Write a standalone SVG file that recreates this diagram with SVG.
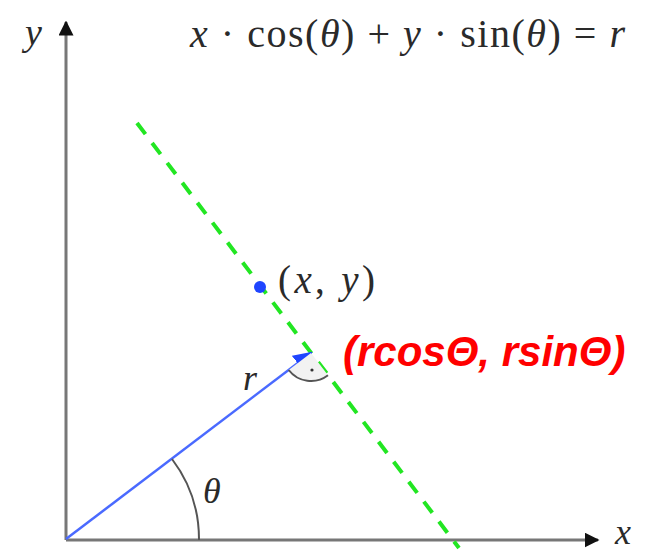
<svg xmlns="http://www.w3.org/2000/svg" width="669" height="553" viewBox="0 0 669 553">
<defs>
<style>
.math{font-family:"Liberation Serif","DejaVu Serif",serif;fill:#2a2a2a;}
.it{font-style:italic;}
.axis{stroke:#777;stroke-width:3;fill:none;}
</style>
<marker id="ah" viewBox="0 0 10 10" refX="9" refY="5" markerWidth="5" markerHeight="5" orient="auto" markerUnits="strokeWidth">
<path d="M0,0 L10,5 L0,10 Z" fill="#111"/>
</marker>
<marker id="bh" viewBox="0 0 10 10" refX="9" refY="5" markerWidth="7.5" markerHeight="7.5" orient="auto" markerUnits="strokeWidth">
<path d="M0,0 L10,5 L0,10 Z" fill="#1f45ff"/>
</marker>
</defs>
<rect width="669" height="553" fill="#fff"/>
<g id="connectors">
<line id="x-axis" class="axis" x1="66" y1="540" x2="598" y2="540" marker-end="url(#ah)"/>
<line id="y-axis" class="axis" x1="66" y1="540" x2="66" y2="22" marker-end="url(#ah)"/>
<line id="normal-line" x1="137" y1="123" x2="459" y2="548" stroke="#22e622" stroke-width="4" stroke-dasharray="14,11"/>
<line id="r-vector" x1="66" y1="539" x2="311" y2="353" stroke="#4a6aff" stroke-width="2.5" marker-end="url(#bh)"/>
<path id="theta-arc" d="M199,540 A133,133 0 0 0 172,459" fill="none" stroke="#555" stroke-width="2"/>
<path id="right-angle" d="M311,353 L288.7,370 A28,28 0 0 0 328,375.3 Z" fill="#f2f2f2" stroke="none"/>
<path d="M288.7,370 A28,28 0 0 0 328,375.3" fill="none" stroke="#555" stroke-width="2"/>
<circle cx="312" cy="370" r="1.6" fill="#333"/>
</g>
<g id="point-xy">
<circle cx="260" cy="287" r="6" fill="#1f45ff"/>
<text class="math" x="278" y="293" font-size="39" textLength="97" lengthAdjust="spacing">(<tspan class="it">x</tspan>, <tspan class="it">y</tspan>)</text>
</g>
<g id="labels">
<text class="math it" x="25" y="45" font-size="38">y</text>
<text class="math it" x="615" y="544" font-size="36">x</text>
<text class="math it" x="243" y="390" font-size="36">r</text>
<text class="math it" x="203" y="503" font-size="36">θ</text>
<text class="math" x="190" y="47" font-size="40" textLength="435" lengthAdjust="spacing"><tspan class="it">x</tspan> · cos(<tspan class="it">θ</tspan>) + <tspan class="it">y</tspan> · sin(<tspan class="it">θ</tspan>) = <tspan class="it">r</tspan></text>
<text x="343" y="366" font-family="'Liberation Sans',Arial,sans-serif" font-size="42" font-weight="bold" font-style="italic" fill="#ff0000">(rcosΘ, rsinΘ)</text>
</g>
</svg>
